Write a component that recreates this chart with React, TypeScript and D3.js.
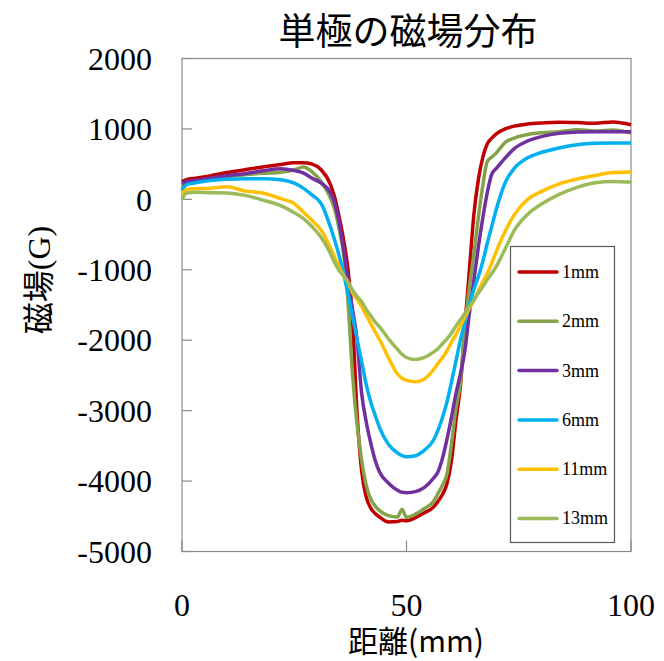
import React, { useEffect, useRef } from 'react';
import * as d3 from 'd3';

// distance (mm)
const distance = [
  0, 1, 3, 6, 10, 14, 18, 22, 25, 27, 29, 31, 33, 34, 35, 36, 37, 38, 39, 40,
  41, 42, 43, 44, 46, 48, 49, 50, 52, 54, 56, 57, 58, 59, 60, 61, 62, 63, 64, 65,
  66, 67, 68, 69, 70, 72, 74, 77, 80, 84, 88, 92, 96, 100
];

// field (G) per magnet gap
const field1mm = [
  250, 280, 300, 330, 380, 420, 460, 495, 520, 520, 500, 420, 220, 30, -250, -580, -1010, -1750, -3050, -3850,
  -4220, -4380, -4460, -4510, -4580, -4575, -4555, -4565, -4520, -4450, -4370, -4290, -4190, -4040, -3720, -3150, -2650, -1800, -1010, -220,
  280, 600, 790, 870, 930, 1000, 1040, 1070, 1085, 1095, 1090, 1080, 1100, 1060
];
const field2mm = [
  175, 230, 260, 290, 320, 350, 370, 385, 420, 460, 390, 250, 30, -140, -420, -780, -1480, -2500, -3200, -3700,
  -4050, -4250, -4350, -4420, -4490, -4510, -4400, -4515, -4470, -4390, -4290, -4180, -4060, -3900, -3480, -2970, -2600, -1800, -1250, -780,
  -260, 200, 540, 600, 660, 810, 870, 920, 945, 960, 990, 970, 985, 940
];
const field3mm = [
  220, 250, 270, 300, 335, 365, 405, 435, 410, 375, 300, 230, 100, -50, -330, -720, -1150, -1570, -2000, -2750,
  -3150, -3450, -3700, -3870, -4030, -4130, -4160, -4165, -4150, -4090, -3960, -3870, -3680, -3410, -3100, -2760, -2480, -2150, -1620, -1150,
  -680, -260, 100, 360, 440, 590, 720, 830, 890, 940, 955, 960, 960, 960
];
const field6mm = [
  130, 210, 235, 265, 285, 294, 294, 280, 230, 160, 60, -60, -380, -580, -800, -1060, -1350, -1670, -1990, -2300,
  -2620, -2870, -3060, -3240, -3480, -3600, -3640, -3655, -3640, -3560, -3420, -3280, -3100, -2880, -2600, -2300, -2000, -1750, -1500, -1280,
  -1100, -880, -620, -380, -140, 240, 440, 590, 665, 730, 775, 795, 800, 800
];
const field11mm = [
  60, 140, 150, 155, 180, 120, 90, 10, -60, -180, -300, -440, -680, -820, -960, -1080, -1180, -1330, -1420, -1520,
  -1640, -1760, -1880, -1990, -2250, -2480, -2540, -2570, -2590, -2550, -2420, -2330, -2250, -2150, -2030, -1920, -1800, -1670, -1550, -1440,
  -1300, -1170, -1050, -900, -740, -450, -220, 0, 110, 220, 290, 340, 380, 390
];
const field13mm = [
  0, 90, 100, 95, 90, 57, -10, -90, -190, -270, -390, -540, -760, -900, -1010, -1090, -1180, -1290, -1380, -1450,
  -1560, -1650, -1740, -1810, -1980, -2130, -2200, -2245, -2275, -2245, -2170, -2120, -2050, -1980, -1900, -1800, -1710, -1620, -1520, -1430,
  -1330, -1240, -1140, -1050, -950, -700, -440, -210, -70, 70, 170, 235, 255, 245
];

const seriesNames = ['1mm', '2mm', '3mm', '6mm', '11mm', '13mm'];
const seriesValues = [field1mm, field2mm, field3mm, field6mm, field11mm, field13mm];
const seriesColors = ['#C00000', '#84A24A', '#7030A0', '#00B0F0', '#FFC000', '#9BBB59'];

const yTicks = [2000, 1000, 0, -1000, -2000, -3000, -4000, -5000];
const xTicks = [0, 50, 100];

const cjk = '"Noto Sans CJK JP", "Noto Sans", sans-serif';
const serif = '"Liberation Serif", "Times New Roman", serif';

const App = () => {
  const svgRef = useRef<SVGSVGElement>(null);

  useEffect(() => {
    const svg = d3.select(svgRef.current);
    svg.selectAll('*').remove();

    const left = 182;
    const right = 631;
    const top = 58.5;
    const bottom = 551.5;

    const x = d3.scaleLinear().domain([0, 100]).range([left, right]);
    const y = d3.scaleLinear().domain([-5000, 2000]).range([bottom, top]);

    // title
    svg
      .append('text')
      .attr('x', 408)
      .attr('y', 45)
      .attr('text-anchor', 'middle')
      .style('font-family', cjk)
      .style('font-size', '37px')
      .text('単極の磁場分布');

    // plot frame
    svg
      .append('rect')
      .attr('x', left)
      .attr('y', top)
      .attr('width', right - left)
      .attr('height', bottom - top)
      .attr('fill', 'none')
      .attr('stroke', '#8c8c8c')
      .attr('stroke-width', 1.2);

    // y ticks and labels
    const yAxis = svg.append('g');
    yTicks.forEach(t => {
      yAxis
        .append('line')
        .attr('x1', left)
        .attr('x2', left + 10)
        .attr('y1', y(t))
        .attr('y2', y(t))
        .attr('stroke', '#8c8c8c')
        .attr('stroke-width', 1.2);
      yAxis
        .append('text')
        .attr('x', 152)
        .attr('y', y(t))
        .attr('dy', '0.35em')
        .attr('text-anchor', 'end')
        .style('font-family', serif)
        .style('font-size', '32px')
        .text(String(t));
    });

    // x ticks and labels
    const xAxis = svg.append('g');
    xTicks.forEach(t => {
      xAxis
        .append('line')
        .attr('x1', x(t))
        .attr('x2', x(t))
        .attr('y1', bottom)
        .attr('y2', bottom - 11)
        .attr('stroke', '#8c8c8c')
        .attr('stroke-width', 1.2);
      xAxis
        .append('text')
        .attr('x', x(t))
        .attr('y', 616)
        .attr('text-anchor', 'middle')
        .style('font-family', serif)
        .style('font-size', '32px')
        .text(String(t));
    });

    // axis titles
    const yTitle = svg
      .append('text')
      .attr('transform', 'translate(50, 280) rotate(-90)')
      .attr('text-anchor', 'middle')
      .style('font-size', '32px');
    yTitle.append('tspan').style('font-family', cjk).text('磁場');
    yTitle.append('tspan').style('font-family', serif).text('(G)');

    svg
      .append('text')
      .attr('x', 416)
      .attr('y', 652)
      .attr('text-anchor', 'middle')
      .style('font-family', cjk)
      .style('font-size', '30px')
      .text('距離(mm)');

    // lines
    const line = d3
      .line<number>()
      .x((d, i) => x(distance[i]))
      .y(d => y(d))
      .curve(d3.curveMonotoneX);

    const lines = svg.append('g');
    seriesValues.forEach((vals, k) => {
      lines
        .append('path')
        .attr('d', line(vals))
        .attr('fill', 'none')
        .attr('stroke', seriesColors[k])
        .attr('stroke-width', 3.5)
        .attr('stroke-linejoin', 'round');
    });

    // legend
    const lg = svg.append('g');
    lg.append('rect')
      .attr('x', 510.5)
      .attr('y', 246.5)
      .attr('width', 104)
      .attr('height', 296)
      .attr('fill', 'white')
      .attr('stroke', '#595959')
      .attr('stroke-width', 1.2);
    seriesNames.forEach((name, k) => {
      const ly = 272 + k * 49.3;
      lg.append('line')
        .attr('x1', 519)
        .attr('x2', 557)
        .attr('y1', ly)
        .attr('y2', ly)
        .attr('stroke', seriesColors[k])
        .attr('stroke-width', 3.5)
        .attr('stroke-linecap', 'round');
      lg.append('text')
        .attr('x', 562)
        .attr('y', ly)
        .attr('dy', '0.33em')
        .style('font-family', serif)
        .style('font-size', '18px')
        .text(name);
    });
  }, []);

  return (
    <svg
      ref={svgRef}
      width={664}
      height={661}
      style={{ position: 'absolute', left: 0, top: 0, background: 'white' }}
    />
  );
};

export default App;
